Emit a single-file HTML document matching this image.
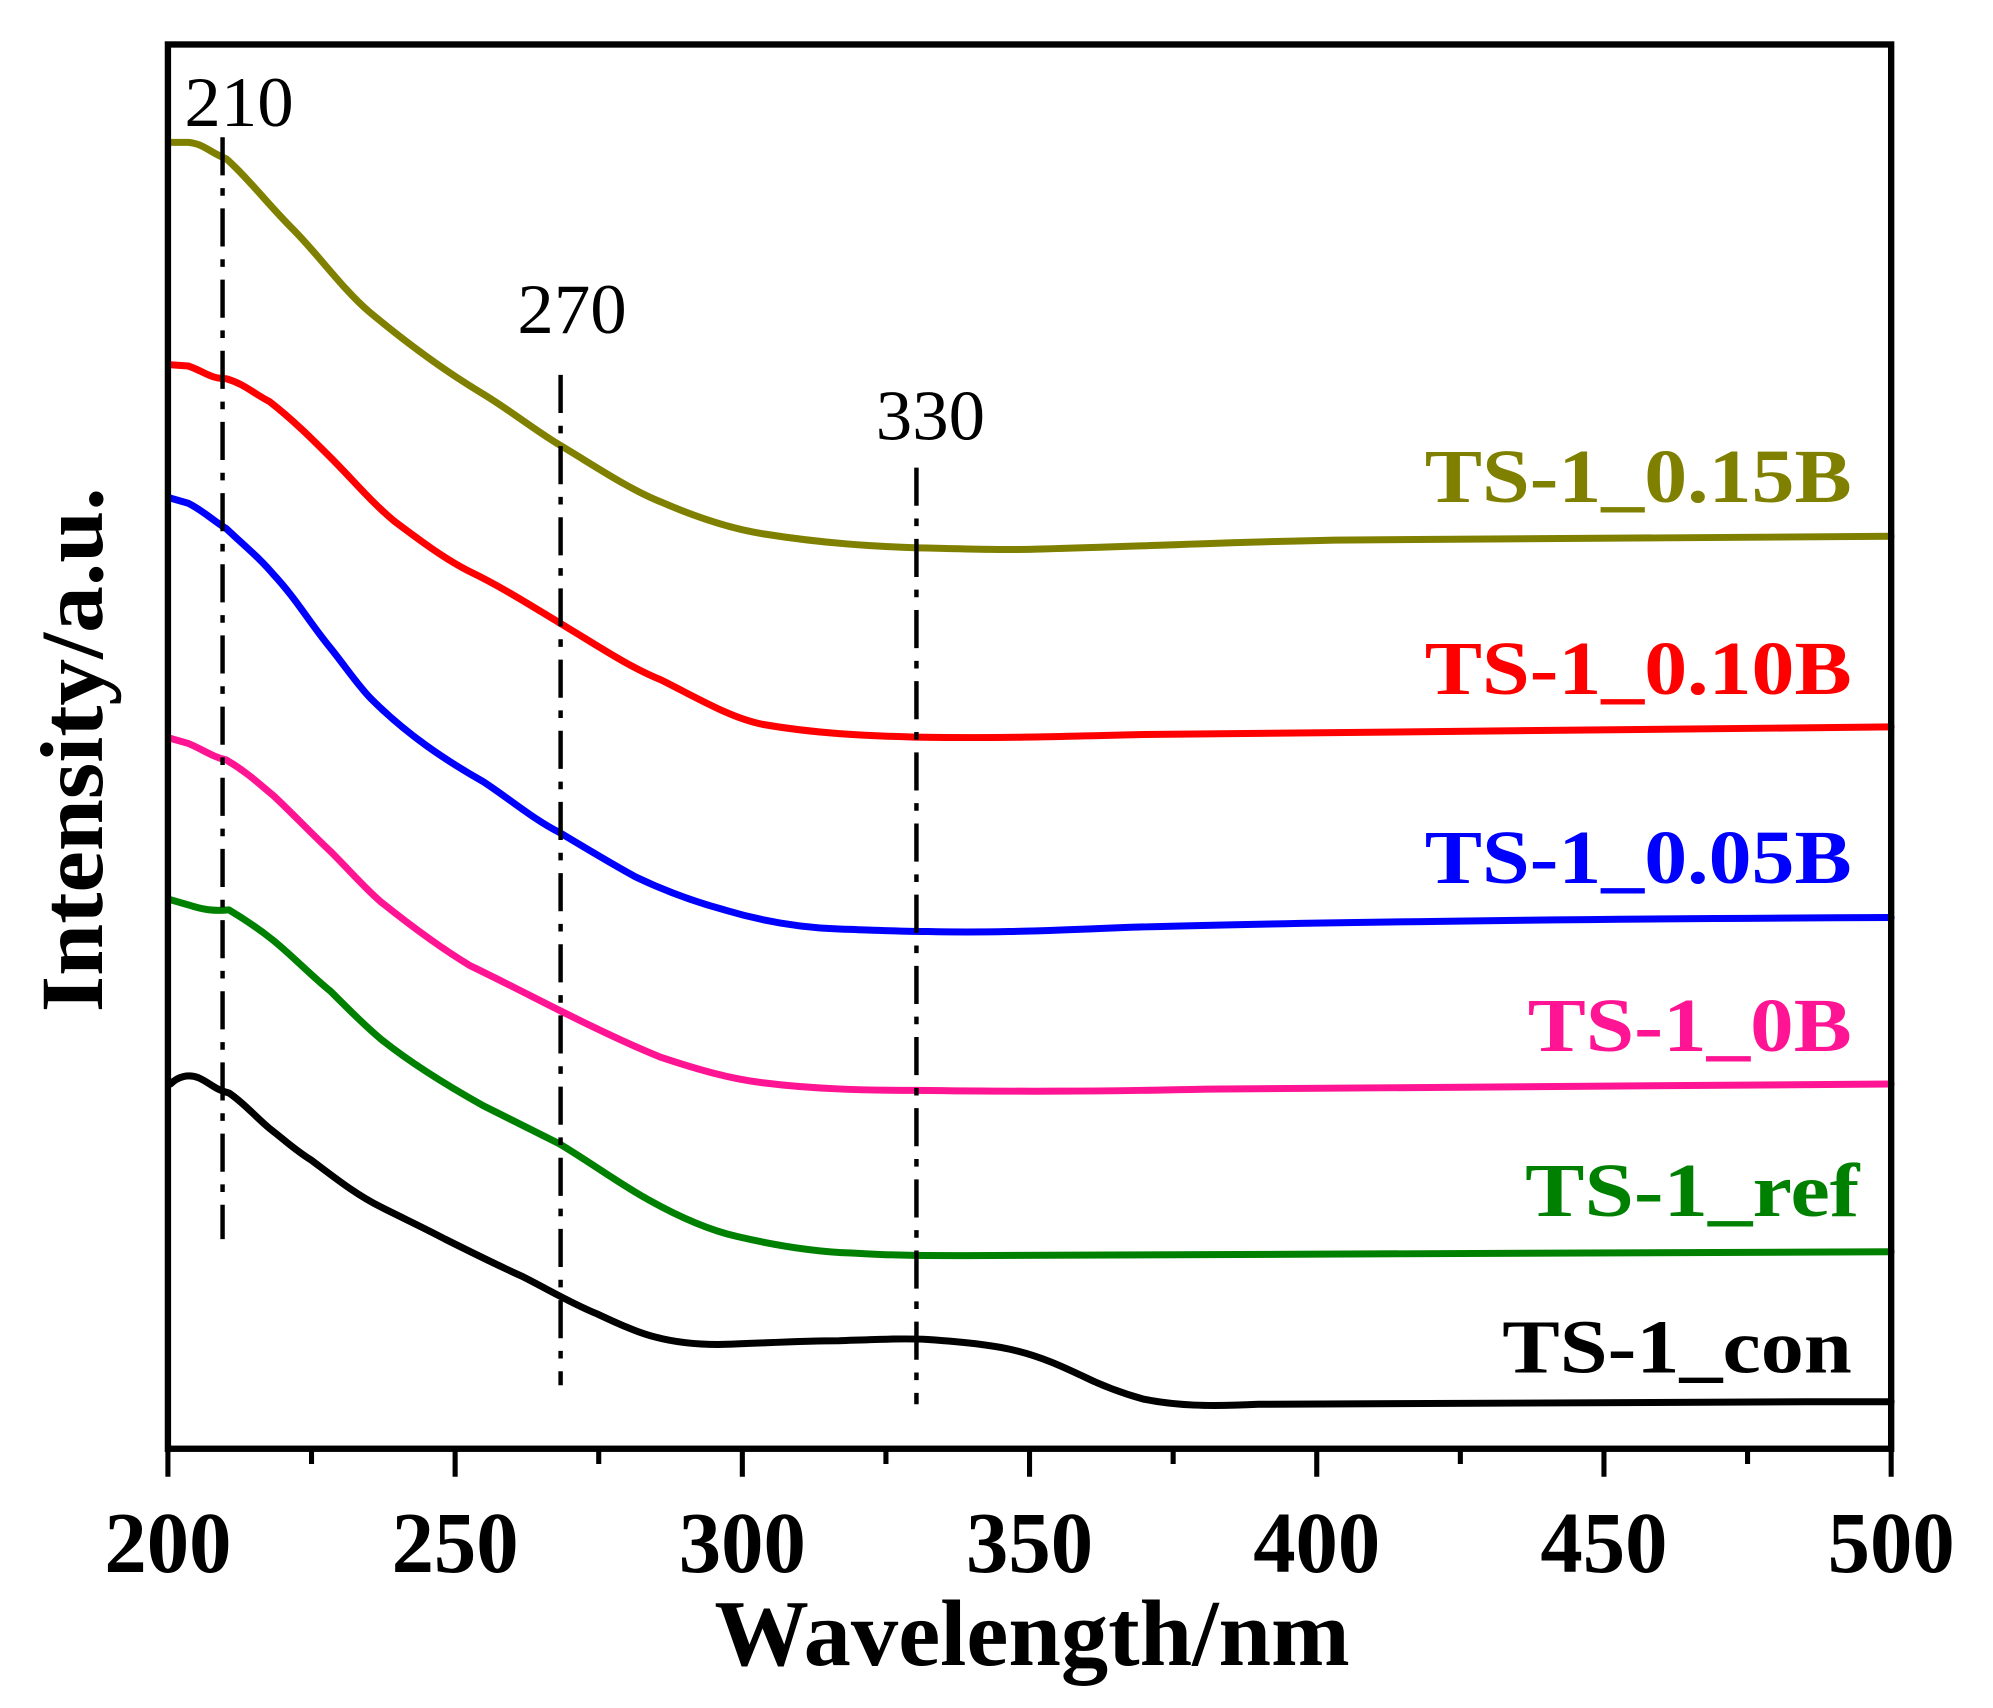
<!DOCTYPE html>
<html><head><meta charset="utf-8"><style>
html,body{margin:0;padding:0;background:#fff;}
svg{display:block;}
text{font-family:"Liberation Serif",serif;}
</style></head><body>
<svg width="1993" height="1708" viewBox="0 0 1568 1344" xmlns="http://www.w3.org/2000/svg">
<rect width="1568" height="1344" fill="#fff"/>
<g fill="none" stroke-width="5.5" stroke-linejoin="round" stroke-linecap="round">
<path stroke="#808000" d="M134,112 L148,112 C160,113 165,120 178,125 C195,140 210,160 230,180 C250,200 270,228 290,245 C320,270 350,292 380,310 C400,322 420,338 440,350 C470,368 495,385 520,395 C550,408 575,416 600,420 C650,428 690,430 720,431 C760,432 790,433 820,432 C900,430 950,427 1050,425 C1200,424 1350,423 1488,422"/>
<path stroke="#ff0000" d="M134,287 L148,288 C160,292 165,298 178,298 C192,302 200,310 212,316 C230,330 245,345 260,360 C278,378 292,395 310,410 C330,425 350,440 370,450 C395,462 420,478 440,490 C470,508 495,525 520,535 C550,550 575,565 600,570 C640,577 680,579 720,580 C780,581 820,580 900,578 C1050,575 1250,573 1488,572"/>
<path stroke="#0000ff" d="M134,392 L148,396 C160,402 168,410 178,416 C195,432 205,440 215,452 C232,470 245,492 260,510 C272,525 282,540 292,550 C320,578 350,598 380,615 C400,628 420,645 440,655 C465,670 485,682 500,690 C525,702 548,710 570,716 C600,725 630,730 660,731 C690,732 710,733 730,733 C770,734 810,733 880,730 C1000,726 1250,723 1488,722"/>
<path stroke="#ff1493" d="M134,581 L148,585 C160,590 168,596 178,598 C195,608 205,618 215,626 C232,642 245,656 260,670 C275,685 288,700 300,710 C325,730 350,748 370,760 C395,772 420,785 440,795 C470,810 495,822 520,832 C550,842 575,849 600,852 C640,857 680,858 720,858 C800,859 860,859 950,857 C1150,855 1350,854 1488,853"/>
<path stroke="#008000" d="M134,708 L148,712 C160,716 168,717 180,716 C195,725 205,732 215,740 C232,754 245,768 260,780 C275,795 288,808 300,818 C325,838 355,856 380,870 C400,880 420,890 440,900 C465,915 488,932 510,944 C535,958 558,968 580,973 C610,980 640,985 670,986 C700,988 730,988 760,988 C900,988 1100,986 1488,985"/>
<path stroke="#000000" d="M134,853 C140,847 148,845 156,848 C165,852 170,858 180,860 C192,868 200,878 212,888 C225,898 232,905 245,913 C265,928 280,940 300,950 C320,960 335,967 350,975 C370,985 390,995 410,1004 C430,1014 450,1026 470,1034 C485,1041 500,1048 515,1052 C530,1056 545,1058 565,1058 C600,1057 630,1055 660,1055 C690,1054 710,1053 730,1054 C760,1056 785,1059 800,1063 C820,1068 835,1075 850,1082 C870,1092 885,1097 900,1101 C925,1106 950,1107 990,1105 C1100,1104 1300,1103 1488,1103"/>
</g>
<g stroke="#000" stroke-width="3.5" fill="none">
<path d="M175,108 L175,975" stroke-dasharray="30,10,6,10"/>
<path d="M441,295 L441,1090" stroke-dasharray="30,10,6,10"/>
<path d="M721,368 L721,1105" stroke-dasharray="30,10,6,10"/>
</g>
<g font-size="56" fill="#000">
<text x="188" y="99" text-anchor="middle" textLength="86" lengthAdjust="spacingAndGlyphs">210</text>
<text x="450" y="262" text-anchor="middle" textLength="86" lengthAdjust="spacingAndGlyphs">270</text>
<text x="732" y="346" text-anchor="middle" textLength="86" lengthAdjust="spacingAndGlyphs">330</text>
</g>
<g fill="none" stroke="#000">
<rect x="132" y="35" width="1356" height="1105" stroke-width="5"/>
<path stroke-width="4" d="M132,1140 v22 M245,1140 v12 M358,1140 v22 M471,1140 v12 M584,1140 v22 M697,1140 v12 M810,1140 v22 M923,1140 v12 M1036,1140 v22 M1149,1140 v12 M1262,1140 v22 M1375,1140 v12 M1488,1140 v22"/>
</g>
<g font-size="68" font-weight="bold" fill="#000" text-anchor="middle">
<text x="132" y="1237" textLength="100" lengthAdjust="spacingAndGlyphs">200</text>
<text x="358" y="1237" textLength="100" lengthAdjust="spacingAndGlyphs">250</text>
<text x="584" y="1237" textLength="100" lengthAdjust="spacingAndGlyphs">300</text>
<text x="810" y="1237" textLength="100" lengthAdjust="spacingAndGlyphs">350</text>
<text x="1036" y="1237" textLength="100" lengthAdjust="spacingAndGlyphs">400</text>
<text x="1262" y="1237" textLength="100" lengthAdjust="spacingAndGlyphs">450</text>
<text x="1488" y="1237" textLength="100" lengthAdjust="spacingAndGlyphs">500</text>
<text x="812" y="1310" font-size="74" textLength="500" lengthAdjust="spacingAndGlyphs">Wavelength/nm</text>
<text transform="translate(80,590) rotate(-90)" font-size="70" textLength="413" lengthAdjust="spacingAndGlyphs">Intensity/a.u.</text>
</g>
<g font-size="60" font-weight="bold" text-anchor="end">
<text x="1457" y="395" fill="#808000" textLength="336" lengthAdjust="spacingAndGlyphs">TS-1_0.15B</text>
<text x="1457" y="546" fill="#ff0000" textLength="336" lengthAdjust="spacingAndGlyphs">TS-1_0.10B</text>
<text x="1457" y="695" fill="#0000ff" textLength="336" lengthAdjust="spacingAndGlyphs">TS-1_0.05B</text>
<text x="1457" y="827" fill="#ff1493" textLength="255" lengthAdjust="spacingAndGlyphs">TS-1_0B</text>
<text x="1463" y="957" fill="#008000" textLength="263" lengthAdjust="spacingAndGlyphs">TS-1_ref</text>
<text x="1457" y="1080" fill="#000000" textLength="275" lengthAdjust="spacingAndGlyphs">TS-1_con</text>
</g>
</svg>
</body></html>
